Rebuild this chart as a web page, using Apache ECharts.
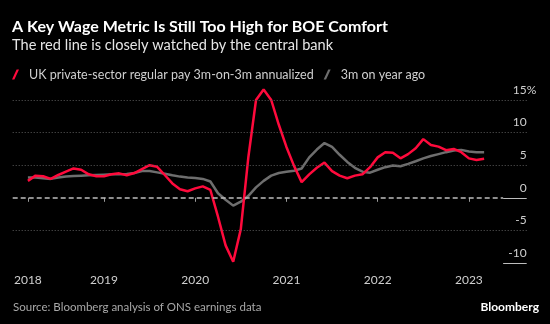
<!DOCTYPE html>
<html>
<head>
<meta charset="utf-8">
<script src="https://cdn.jsdelivr.net/npm/echarts@6/dist/echarts.min.js"></script>
<style>
html,body{margin:0;padding:0;background:#000;}
#chart{width:550px;height:324px;}
</style>
</head>
<body>
<div id="chart"></div>
<script>
const months = ['2018-03','2018-04','2018-05','2018-06','2018-07','2018-08','2018-09','2018-10','2018-11','2018-12',
'2019-01','2019-02','2019-03','2019-04','2019-05','2019-06','2019-07','2019-08','2019-09','2019-10','2019-11','2019-12',
'2020-01','2020-02','2020-03','2020-04','2020-05','2020-06','2020-07','2020-08','2020-09','2020-10','2020-11','2020-12',
'2021-01','2021-02','2021-03','2021-04','2021-05','2021-06','2021-07','2021-08','2021-09','2021-10','2021-11','2021-12',
'2022-01','2022-02','2022-03','2022-04','2022-05','2022-06','2022-07','2022-08','2022-09','2022-10','2022-11','2022-12',
'2023-01','2023-02','2023-03'];
const pay3m3m = [2.6,3.4,3.3,2.9,3.5,4.0,4.5,4.3,3.6,3.3,
  3.3,3.6,3.75,3.45,3.8,4.4,5.0,4.75,3.5,2.2,
  1.3,1.0,1.45,1.75,1.2,-2.9,-7.3,-9.8,-4.8,6.3,
  15.0,16.6,15.0,11.2,7.8,4.9,2.4,3.6,4.6,5.4,
  4.1,3.4,3.0,3.4,3.6,4.7,6.2,7.0,6.9,6.05,
  6.7,7.6,9.0,8.1,7.85,7.3,7.5,7.0,6.05,5.8,
  6.0];
const pay3mYoY = [3.1,3.1,3.0,2.9,3.1,3.25,3.35,3.4,3.45,3.5,
  3.55,3.6,3.6,3.65,3.8,4.1,4.1,3.9,3.7,3.45,
  3.25,3.1,3.05,2.9,2.5,0.7,-0.3,-1.2,-0.6,0.3,
  1.6,2.6,3.4,3.8,4.0,4.15,4.5,6.2,7.4,8.4,
  7.8,6.6,5.5,4.6,4.0,3.85,4.3,4.7,4.95,4.85,
  5.2,5.6,6.05,6.4,6.7,7.0,7.25,7.35,7.1,7.0,
  7.0];
const seriesNames = ['UK private-sector regular pay 3m-on-3m annualized', '3m on year ago'];
const yTicks = [-10, -5, 0, 5, 10, 15];
// x tick labels: first data month and every January
const xTickIdx = months.map((m, i) => (i === 0 || m.endsWith('-01')) ? i : -1).filter(i => i >= 0);
const xTickLabels = xTickIdx.map(i => months[i].slice(0, 4));

const FONT = 'Lato';
const X_MIN = -2, X_MAX = 65.6, X_SOLID = 62.5;

const chart = echarts.init(document.getElementById('chart'), null, {renderer: 'canvas'});
const gridMarks = yTicks.filter(v => v !== 0 && v !== -10).map(v => ({yAxis: v}));
const swatch = 'path://M0,10 L2.4,10 L7,0 L4.6,0 Z';
chart.setOption({
  backgroundColor: '#000',
  animation: false,
  title: [
    {text: 'A Key Wage Metric Is Still Too High for BOE Comfort', left: 12, top: 19, padding: 0,
     textStyle: {color: '#fff', fontSize: 16, fontWeight: 'bold', fontFamily: FONT}},
    {text: 'The red line is closely watched by the central bank', left: 12, top: 38, padding: 0,
     textStyle: {color: '#e6e6e6', fontSize: 14.6, fontWeight: 'normal', fontFamily: FONT}},
    {text: 'Source: Bloomberg analysis of ONS earnings data', left: 13, top: 301, padding: 0,
     textStyle: {color: '#a8a8a8', fontSize: 11.5, fontWeight: 'normal', fontFamily: FONT}},
    {text: 'Bloomberg', right: 11, top: 301, padding: 0,
     textStyle: {color: '#fff', fontSize: 12, fontWeight: 'bold', fontFamily: FONT}}
  ],
  legend: {
    left: 12, top: 68, padding: 0, itemGap: 10, itemWidth: 7, itemHeight: 10,
    data: [
      {name: seriesNames[0], icon: swatch},
      {name: seriesNames[1], icon: swatch}
    ],
    textStyle: {color: '#cfcfcf', fontSize: 12.5, fontFamily: FONT, padding: [0, 0, 0, 5]},
    selectedMode: false
  },
  grid: {left: 12.7, right: 23.3, top: 100, bottom: 61, containLabel: false},
  xAxis: {
    type: 'value', min: X_MIN, max: X_MAX,
    splitLine: {show: false},
    axisLine: {show: false},
    axisTick: {show: true, customValues: xTickIdx, length: 4, lineStyle: {color: '#9a9a9a', width: 1}},
    axisLabel: {customValues: xTickIdx, color: '#cfcfcf', fontSize: 12, fontFamily: FONT, margin: 11,
      formatter: v => xTickLabels[xTickIdx.indexOf(Math.round(v))] || ''}
  },
  yAxis: {
    type: 'value', position: 'right', min: -10, max: 15, interval: 5,
    splitLine: {show: false},
    axisLine: {show: false},
    axisTick: {show: false},
    axisLabel: {
      inside: true, margin: 0, color: '#cfcfcf', fontSize: 12, fontFamily: FONT,
      verticalAlign: 'bottom', padding: [0, 0, 4, 0],
      formatter: v => v === 15 ? '{n|15}{p|%}' : String(v),
      rich: {
        n: {align: 'left', color: '#cfcfcf', fontSize: 12, fontFamily: FONT},
        p: {width: 0, align: 'left', color: '#cfcfcf', fontSize: 12, fontFamily: FONT}
      }
    }
  },
  series: [
    {
      name: seriesNames[1], type: 'line', symbol: 'none', clip: false, z: 3,
      color: '#6e6e6e',
      lineStyle: {color: '#6e6e6e', width: 2.5},
      data: pay3mYoY.map((v, i) => [i, v]),
      markLine: {
        silent: true, symbol: 'none', label: {show: false}, animation: false,
        lineStyle: {color: '#5c5c5c', type: [1, 2], width: 1},
        data: gridMarks.concat([
          [{coord: [X_MIN, 0], lineStyle: {color: '#bdbdbd', type: [5, 3], width: 1.5}}, {coord: [X_SOLID, 0]}],
          [{coord: [X_SOLID, 0], lineStyle: {color: '#bdbdbd', type: 'solid', width: 1}}, {coord: [X_MAX, 0]}],
          [{coord: [X_SOLID, -10], lineStyle: {color: '#bdbdbd', type: 'solid', width: 1}}, {coord: [X_MAX, -10]}]
        ])
      }
    },
    {
      name: seriesNames[0], type: 'line', symbol: 'none', clip: false, z: 4,
      color: '#ff0a3c',
      lineStyle: {color: '#ff0a3c', width: 2.5},
      data: pay3m3m.map((v, i) => [i, v])
    }
  ]
});
</script>
</body>
</html>
